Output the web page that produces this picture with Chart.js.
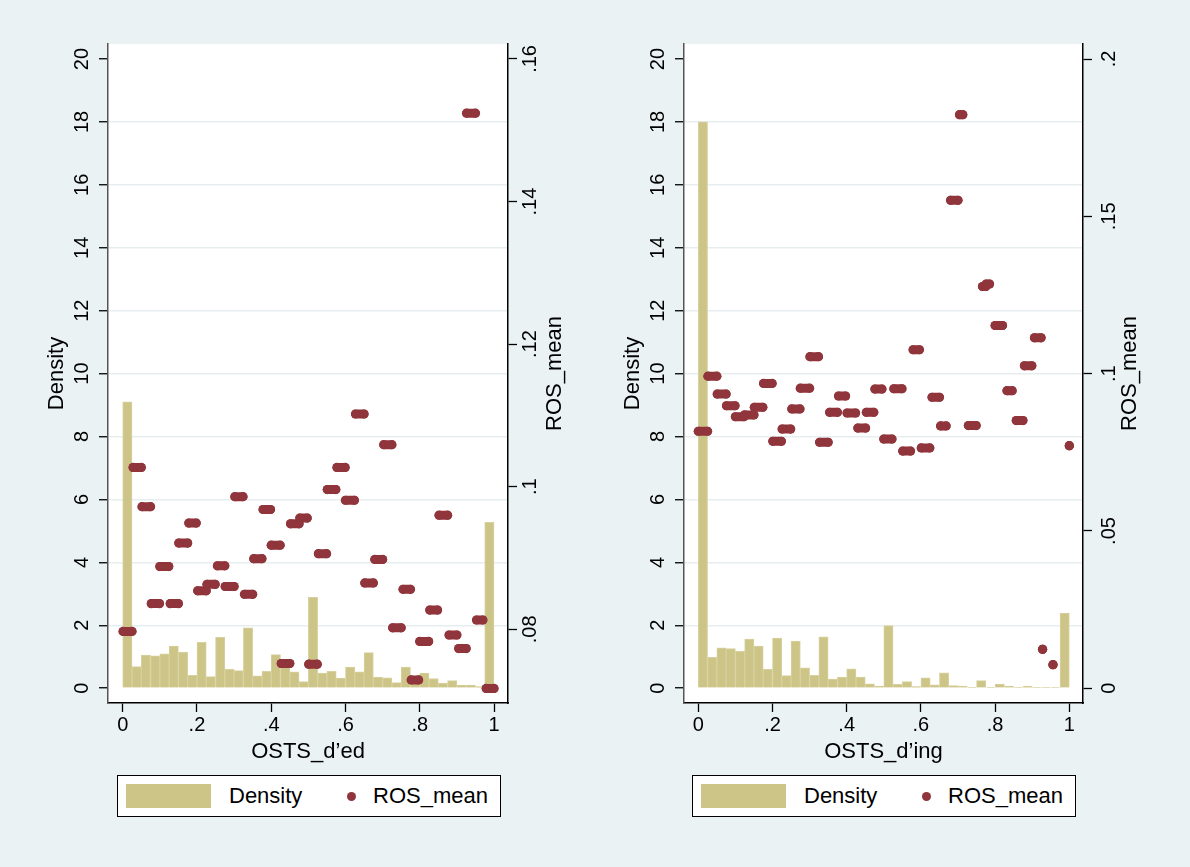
<!DOCTYPE html>
<html>
<head>
<meta charset="utf-8">
<script src="https://cdn.jsdelivr.net/npm/chart.js@4.4.1/dist/chart.umd.min.js"></script>
<style>
body { margin: 0; background: #eaf2f3; width: 1190px; height: 867px; overflow: hidden; font-family: 'Liberation Sans', Arial, Helvetica, sans-serif; }
canvas { position: absolute; top: 0; }
.legend { position: absolute; top: 775px; width: 384px; height: 42px; box-sizing: border-box; border: 1px solid #000; background: #fff; font-size: 22px; }
.legend .sw { position: absolute; left: 8px; top: 8px; width: 85px; height: 24px; background: #cdc587; }
.legend .dot { position: absolute; left: 229px; top: 16px; width: 9px; height: 9px; border-radius: 50%; background: #90353b; }
.legend .t { position: absolute; top: 0; line-height: 40px; }
</style>
</head>
<body>
<canvas id="edChart" width="595" height="770" style="left:0"></canvas>
<canvas id="ingChart" width="614" height="770" style="left:576px"></canvas>
<div class="legend" style="left:117px"><span class="sw"></span><span class="t" style="left:111px">Density</span><span class="dot"></span><span class="t" style="left:255px">ROS_mean</span></div>
<div class="legend" style="left:692px"><span class="sw"></span><span class="t" style="left:111px">Density</span><span class="dot"></span><span class="t" style="left:255px">ROS_mean</span></div>
<script>
// histogram bins (lower edges), width .025
var binStart = [0, .025, .05, .075, .1, .125, .15, .175, .2, .225, .25, .275, .3, .325, .35, .375, .4, .425, .45, .475,
    .5, .525, .55, .575, .6, .625, .65, .675, .7, .725, .75, .775, .8, .825, .85, .875, .9, .925, .95, .975];
var binWidth = 0.025;

// OSTS_d'ed
var edDensity = [9.1, 0.69, 1.05, 1.03, 1.09, 1.34, 1.15, 0.41, 1.46, 0.37, 1.62, 0.60, 0.56, 1.92, 0.39, 0.54, 1.07, 0.70, 0.52, 0.21,
    2.89, 0.48, 0.54, 0.32, 0.67, 0.52, 1.13, 0.35, 0.33, 0.18, 0.67, 0.30, 0.48, 0.31, 0.16, 0.24, 0.10, 0.10, 0.05, 5.27];
var edRos = [0.0797, 0.1027, 0.0972, 0.0836, 0.0888, 0.0836, 0.0921, 0.0949, 0.0854, 0.0863, 0.0889, 0.0860, 0.0986, 0.0849, 0.0899, 0.0968, 0.0918, 0.0752, 0.0948, 0.0956,
    0.0751, 0.0906, 0.0996, 0.1027, 0.0981, 0.1102, 0.0865, 0.0898, 0.1059, 0.0802, 0.0856, 0.0729, 0.0783, 0.0827, 0.0960, 0.0792, 0.0773, 0.1524, 0.0813, 0.0717];
var edFrom = [0.001, 0.028, 0.052, 0.077, 0.100, 0.128, 0.151, 0.178, 0.202, 0.227, 0.255, 0.276, 0.302, 0.328, 0.353, 0.378, 0.400, 0.427, 0.452, 0.477,
    0.501, 0.527, 0.551, 0.577, 0.600, 0.627, 0.652, 0.679, 0.703, 0.727, 0.755, 0.777, 0.800, 0.827, 0.852, 0.879, 0.905, 0.926, 0.953, 0.979];
var edTo = [0.025, 0.050, 0.075, 0.099, 0.124, 0.150, 0.175, 0.198, 0.225, 0.249, 0.275, 0.300, 0.324, 0.350, 0.375, 0.398, 0.424, 0.450, 0.475, 0.497,
    0.524, 0.549, 0.574, 0.599, 0.624, 0.650, 0.675, 0.700, 0.725, 0.750, 0.775, 0.797, 0.824, 0.848, 0.875, 0.900, 0.925, 0.950, 0.970, 1.000];

// OSTS_d'ing
var ingDensity = [18.0, 0.98, 1.28, 1.26, 1.17, 1.56, 1.34, 0.60, 1.59, 0.40, 1.50, 0.65, 0.41, 1.63, 0.29, 0.35, 0.62, 0.35, 0.14, 0.07,
    1.99, 0.12, 0.21, 0.05, 0.33, 0.11, 0.49, 0.08, 0.07, 0.03, 0.24, 0.03, 0.13, 0.07, 0.03, 0.06, 0.03, 0.03, 0.03, 2.39];
var ingRos = [0.0817, 0.0992, 0.0935, 0.0898, 0.0863, 0.0869, 0.0893, 0.0969, 0.0785, 0.0824, 0.0888, 0.0954, 0.1054, 0.0782, 0.0877, 0.0929, 0.0875, 0.0827, 0.0877, 0.0951,
    0.0792, 0.0952, 0.0754, 0.1076, 0.0764, 0.0925, 0.0834, 0.1551, 0.1823, 0.0835, 0.1277, 0.1285, 0.1153, 0.0946, 0.0851, 0.1025, 0.1114, 0.0124, 0.0075, 0.0771];
var ingFrom = [0.000, 0.026, 0.051, 0.076, 0.100, 0.125, 0.151, 0.176, 0.201, 0.226, 0.252, 0.275, 0.301, 0.327, 0.354, 0.378, 0.401, 0.430, 0.453, 0.476,
    0.500, 0.527, 0.551, 0.579, 0.601, 0.630, 0.653, 0.680, 0.704, 0.728, 0.766, 0.776, 0.800, 0.832, 0.857, 0.879, 0.906, 0.928, 0.956, 1.000];
var ingTo = [0.025, 0.050, 0.075, 0.099, 0.123, 0.150, 0.174, 0.199, 0.224, 0.249, 0.274, 0.300, 0.324, 0.350, 0.375, 0.397, 0.424, 0.451, 0.473, 0.495,
    0.522, 0.549, 0.572, 0.596, 0.624, 0.650, 0.668, 0.700, 0.713, 0.749, 0.775, 0.785, 0.820, 0.846, 0.875, 0.899, 0.924, 0.928, 0.956, 1.000];

// tick labels
var densityTicks = [0, 2, 4, 6, 8, 10, 12, 14, 16, 18, 20];
var xTicks = [0, .2, .4, .6, .8, 1];
var edRosTicks = [.08, .1, .12, .14, .16];
var ingRosTicks = [0, .05, .1, .15, .2];

var khaki = '#cdc587';
var maroon = '#90353b';
var fontFamily = "'Liberation Sans', Arial, Helvetica, sans-serif";
Chart.defaults.font.family = fontFamily;
Chart.defaults.color = '#000';

function fmt(v) {
    return String(+Number(v).toFixed(4)).replace(/^0\./, '.');
}
function setTicks(list) {
    return function (scale) {
        scale.ticks = list.map(function (v) { return { value: v }; });
    };
}

var plotBg = {
    id: 'plotBg',
    beforeDraw: function (chart) {
        var a = chart.chartArea;
        chart.ctx.save();
        chart.ctx.fillStyle = '#fff';
        chart.ctx.fillRect(a.left, a.top, a.right - a.left, a.bottom - a.top);
        chart.ctx.restore();
    }
};

// right axis title reads bottom-to-top like the left one
var rightTitle = {
    id: 'rightTitle',
    afterDraw: function (chart, args, opts) {
        var s = chart.scales.y2, ctx = chart.ctx;
        ctx.save();
        ctx.translate(s.left + opts.offset, (s.top + s.bottom) / 2);
        ctx.rotate(-Math.PI / 2);
        ctx.font = '22px ' + fontFamily;
        ctx.fillStyle = '#000';
        ctx.textAlign = 'center';
        ctx.textBaseline = 'middle';
        ctx.fillText(opts.text, 0, 0);
        ctx.restore();
    }
};

function makePanel(id, opt) {
    var bars = [];
    opt.density.forEach(function (d, i) {
        bars.push({ x: binStart[i] + binWidth / 2, y: d });
    });
    var ros = [];
    opt.ros.forEach(function (r, i) {
        ros.push({ x: opt.from[i], y: r });
        ros.push({ x: opt.to[i], y: r });
    });

    return new Chart(document.getElementById(id), {
        type: 'bar',
        data: {
            datasets: [
                {
                    type: 'line',
                    label: 'ROS_mean',
                    data: ros,
                    yAxisID: 'y2',
                    order: 0,
                    borderColor: maroon,
                    borderWidth: 9,
                    borderCapStyle: 'round',
                    tension: 0,
                    segment: {
                        borderColor: function (ctx) { return ctx.p0DataIndex % 2 ? 'rgba(0,0,0,0)' : maroon; }
                    },
                    pointRadius: 4.6,
                    pointBorderWidth: 0,
                    pointBackgroundColor: maroon,
                    fill: false
                },
                {
                    label: 'Density',
                    data: bars,
                    yAxisID: 'y',
                    order: 1,
                    backgroundColor: khaki,
                    borderColor: '#d8d19f',
                    borderWidth: 1,
                    barPercentage: 1,
                    categoryPercentage: 1
                }
            ]
        },
        options: {
            responsive: false,
            animation: false,
            layout: { padding: { top: 44, bottom: 0, left: 0, right: 0 } },
            plugins: {
                legend: { display: false },
                tooltip: { enabled: false },
                rightTitle: { text: 'ROS_mean', offset: 47 }
            },
            scales: {
                x: {
                    type: 'linear',
                    offset: false,
                    min: opt.xMin, max: opt.xMax,
                    afterBuildTicks: setTicks(xTicks),
                    afterFit: function (s) { s.height = 67; },
                    grid: { offset: false, drawOnChartArea: false, tickLength: 9, tickColor: '#000', tickWidth: 1.3 },
                    border: { color: '#000', width: 1.5 },
                    ticks: { font: { size: 20 }, padding: 1, maxRotation: 0, autoSkip: false, callback: fmt },
                    title: { display: true, text: opt.xTitle, font: { size: 22 }, padding: { top: 0, bottom: 5 } }
                },
                y: {
                    type: 'linear',
                    position: 'left',
                    min: -0.47, max: 20.477,
                    afterBuildTicks: setTicks(densityTicks),
                    afterFit: function (s) { s.width = 108; },
                    grid: {
                        color: function (c) {
                            return (c.tick && (c.tick.value === 0 || c.tick.value === 20)) ? 'rgba(0,0,0,0)' : '#e6eef0';
                        },
                        lineWidth: 1.5, tickLength: 9, tickColor: '#000', tickWidth: 1.3
                    },
                    border: { color: '#555', width: 1.5 },
                    ticks: { font: { size: 20 }, minRotation: 90, maxRotation: 90, crossAlign: 'center', padding: 5, autoSkip: false, callback: fmt },
                    title: { display: true, text: 'Density', font: { size: 22 }, padding: { top: 43.8, bottom: 0 } }
                },
                y2: {
                    type: 'linear',
                    position: 'right',
                    min: opt.rMin, max: opt.rMax,
                    afterBuildTicks: setTicks(opt.rTicks),
                    afterFit: function (s) { s.width = opt.y2Width; },
                    grid: { drawOnChartArea: false, tickLength: 9, tickColor: '#000', tickWidth: 1.3 },
                    border: { color: '#000', width: 1.5 },
                    ticks: { font: { size: 20 }, minRotation: 90, maxRotation: 90, crossAlign: 'center', padding: opt.rPad, autoSkip: false, callback: fmt }
                }
            }
        },
        plugins: [plotBg, rightTitle]
    });
}

makePanel('edChart', {
    density: edDensity, ros: edRos, from: edFrom, to: edTo,
    xTitle: 'OSTS_d\u2019ed', xMin: -0.0396, xMax: 1.0377,
    rMin: 0.06966, rMax: 0.16210, rTicks: edRosTicks, rPad: 0, y2Width: 87
});
makePanel('ingChart', {
    density: ingDensity, ros: ingRos, from: ingFrom, to: ingTo,
    xTitle: 'OSTS_d\u2019ing', xMin: -0.0385, xMax: 1.0369,
    rMin: -0.00467, rMax: 0.20477, rTicks: ingRosTicks, rPad: 4, y2Width: 107
});
</script>
</body>
</html>
